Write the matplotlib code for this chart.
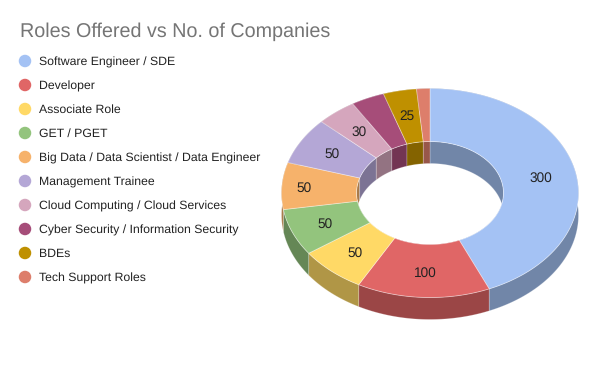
#!/usr/bin/env python3
"""Roles offered vs number of companies, as a tilted donut."""

import matplotlib
matplotlib.use('Agg')
from matplotlib import pyplot as plt
from matplotlib.colors import to_rgb
from matplotlib.patches import Ellipse, Polygon
import numpy as np


ROLES = ['Software Engineer / SDE', 'Developer', 'Associate Role', 'GET / PGET',
         'Big Data / Data Scientist / Data Engineer', 'Management Trainee',
         'Cloud Computing / Cloud Services',
         'Cyber Security / Information Security', 'BDEs', 'Tech Support Roles']
COMPANIES = [300, 100, 50, 50, 50, 50, 30, 25, 25, 10]
# The two slices without a number on the chart.
SHOW_LABEL = [True, True, True, True, True, True, True, False, True, False]
COLORS = ['#a4c2f4', '#e06666', '#ffd966', '#93c47d', '#f6b26b',
          '#b4a7d6', '#d5a6bd', '#a64d79', '#bf9000', '#dd7e6b']

CX, CY = 430, 193
RX, RY = 148.5, 104.5
INNER_RX, INNER_RY = 73.5, 51.5
DEPTH = 22
SHADE = 0.69
# The orange slice's number sits further out than the others.
LABEL_REACH = {4: 0.85}

plt.rcParams['font.family'] = ['Liberation Sans', 'DejaVu Sans']
plt.rcParams['text.hinting'] = 'no_hinting'


def arc(start, end, rx, ry, drop=0):
    """Points on an ellipse; angles are degrees clockwise from the top."""
    num = max(int(abs(end - start)) * 2, 2)
    angles = np.radians(np.linspace(start, end, num))
    return np.column_stack((CX + rx * np.sin(angles),
                            CY - ry * np.cos(angles) + drop))


def shaded(color):
    return tuple(c * SHADE for c in to_rgb(color))


def main():
    """Draw the donut walls, the top faces, then title and legend."""
    fig = plt.figure(figsize=(6, 3.71), dpi=100)
    ax = fig.add_axes([0, 0, 1, 1])
    ax.set_xlim(0, 600)
    ax.set_ylim(371, 0)
    ax.axis('off')

    edges = np.concatenate(([0], np.cumsum(COMPANIES))) / sum(COMPANIES) * 360
    slices = list(zip(edges[:-1], edges[1:], COLORS))

    # Outer wall.
    for start, end, color in slices:
        points = np.vstack((arc(start, end, RX, RY),
                            arc(end, start, RX, RY, DEPTH)))
        ax.add_patch(Polygon(points, fc=shaded(color), ec=(1, 1, 1, 0.25),
                             lw=0.6, zorder=1))

    # Hole, with the far inner wall showing through it.
    ax.add_patch(Ellipse((CX, CY), 2 * INNER_RX, 2 * INNER_RY, fc='white',
                         ec='none', zorder=2))
    clip = Ellipse((CX, CY), 2 * INNER_RX, 2 * INNER_RY,
                   transform=ax.transData)
    for start, end, color in slices:
        points = np.vstack((arc(start, end, INNER_RX, INNER_RY),
                            arc(end, start, INNER_RX, INNER_RY, DEPTH)))
        wall = Polygon(points, fc=shaded(color), ec=(1, 1, 1, 0.25), lw=0.6,
                       zorder=3)
        ax.add_patch(wall)
        wall.set_clip_path(clip)
    # White front part of the hole goes over the near inner wall.
    front = np.vstack((arc(90, 270, INNER_RX, INNER_RY, DEPTH),
                       arc(270, 90, INNER_RX * 1.2, INNER_RY * 1.6, DEPTH)))
    cover = Polygon(front, fc='white', ec='none', zorder=4)
    ax.add_patch(cover)
    cover.set_clip_path(clip)

    # Top faces.
    for start, end, color in slices:
        points = np.vstack((arc(start, end, RX, RY),
                            arc(end, start, INNER_RX, INNER_RY)))
        ax.add_patch(Polygon(points, fc=color, ec=(1, 1, 1, 0.4), lw=0.6,
                             zorder=5))

    # Value labels.
    for i, (start, end, _) in enumerate(slices):
        if not SHOW_LABEL[i]:
            continue
        mid = np.radians((start + end) / 2)
        reach = LABEL_REACH.get(i, 0.76)
        ax.text(CX + reach * RX * np.sin(mid),
                CY - reach * RY * np.cos(mid) + 1,
                str(COMPANIES[i]), fontsize=9.8, color='#222222', ha='center',
                va='center', zorder=6)

    ax.text(20, 32, 'Roles Offered vs No. of Companies', fontsize=14.26,
            color='#757575', va='center')

    # Legend.
    for i, (role, color) in enumerate(zip(ROLES, COLORS)):
        y = 61 + 24 * i
        ax.add_patch(Ellipse((25, y), 12.5, 12.5, fc=color, ec='none'))
        ax.text(39, y + 1, role, fontsize=8.8, color='#222222', va='center')

    fig.savefig('out.png', dpi=100)


if __name__ == '__main__':
    main()
